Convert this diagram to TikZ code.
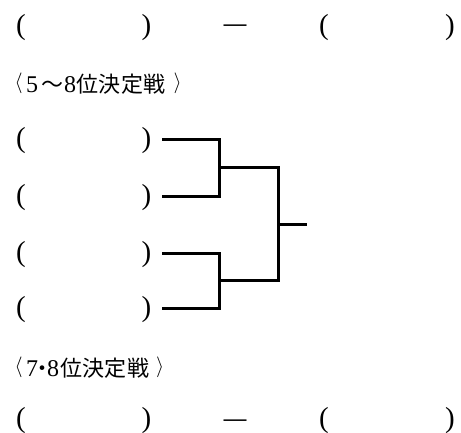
\documentclass[tikz,border=0pt]{standalone}
\usepackage{fontspec}
\newfontfamily\cjk{Noto Sans CJK JP}
\newfontfamily\lserif{Liberation Serif}
\newfontfamily\lsans{Liberation Sans}
\newcommand\gl[2]{\makebox[0pt]{#2}\hspace{#1pt}}
\newcommand\dg[1]{{\lserif\fontsize{24}{28}\selectfont #1}}
\newcommand\lang{\raisebox{4pt}{\fontsize{20}{24}\selectfont$\langle$}}
\newcommand\rang{\raisebox{4pt}{\fontsize{20}{24}\selectfont$\rangle$}}
\begin{document}
\begin{tikzpicture}[x=1pt,y=-1pt,
  pn/.style={inner sep=0pt,font=\lserif\fontsize{29}{32}\selectfont,anchor=base},
  dsh/.style={inner sep=0pt,font=\lsans\fontsize{23}{26}\selectfont,anchor=base},
  lbl/.style={inner sep=0pt,font=\cjk\fontsize{22}{26}\selectfont,anchor=base west},
  br/.style={line width=3pt,line join=miter}]
\useasboundingbox (0,0) rectangle (461,432);
% top row
\node[pn] (a1) at (21,34) {(};
\node[pn] (a2) at (146.5,34) {)};
\node[dsh] (ad) at (235,31.4) {—};
\node[pn] (a3) at (324,34) {(};
\node[pn] (a4) at (450,34) {)};
% label 1
\node[lbl] (l1) at (18.5,92) {\gl{13.5}{\lang}\gl{20.5}{\dg{5}}\gl{17.5}{〜}\gl{17.5}{\dg{8}}\gl{22.3}{位}\gl{22.3}{決}\gl{22.3}{定}\gl{23.1}{戦}\makebox[0pt]{\rang}};
% bracket rows
\foreach \i/\y in {1/139,2/196,3/253,4/308}{
  \node[pn] (p\i) at (21,\y+8) {(};
  \node[pn] (q\i) at (146.5,\y+8) {)};
  \coordinate (s\i) at (162,\y);
}
\coordinate (m1) at (219,167.5);
\coordinate (m2) at (219,280.5);
\coordinate (f) at (278,224);
\coordinate (o) at (307,224);
\draw[br] (s1) -| (m1) |- (s2);
\draw[br] (s3) -| (m2) |- (s4);
\draw[br] (m1) -| (f) |- (m2);
\draw[br] (f) -- (o);
% label 2
\node[lbl] (l2) at (18.5,376) {\gl{13.5}{\lang}\gl{10.5}{\dg{7}}\gl{10.5}{・}\gl{18}{\dg{8}}\gl{22.3}{位}\gl{22.3}{決}\gl{22.3}{定}\gl{22.1}{戦}\makebox[0pt]{\rang}};
% bottom row
\node[pn] (b1) at (21,427) {(};
\node[pn] (b2) at (146.5,427) {)};
\node[dsh] (bd) at (235,426.4) {—};
\node[pn] (b3) at (324,427) {(};
\node[pn] (b4) at (450,427) {)};
\end{tikzpicture}
\end{document}
